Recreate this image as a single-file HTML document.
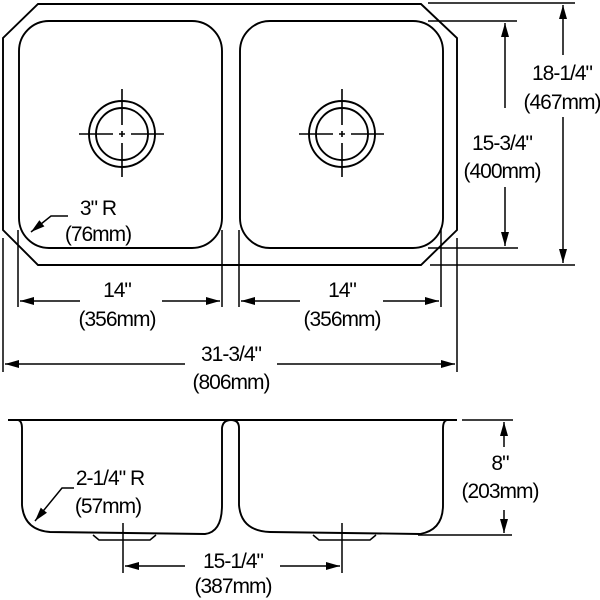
<!DOCTYPE html>
<html><head><meta charset="utf-8"><style>
html,body{margin:0;padding:0;background:#fff;}
svg{display:block;}
text{font-family:"Liberation Sans",Arial,sans-serif;font-size:21px;letter-spacing:-1px;fill:#000;text-anchor:middle;}
</style></head><body>
<svg width="600" height="600" viewBox="0 0 600 600" xmlns="http://www.w3.org/2000/svg">
<defs>
<marker id="a" markerWidth="14" markerHeight="8" refX="14" refY="4" orient="auto" markerUnits="userSpaceOnUse">
<path d="M0,0 L14,4 L0,8 Z" fill="#000"/></marker>
</defs>
<g fill="none" stroke="#000" stroke-width="1.9">
<path d="M38,4 L421,4 L457,38 L457,230 L421,265 L38,265 L3,230 L3,38 Z"/>
<rect x="19" y="21" width="203" height="227" rx="30"/>
<rect x="240" y="21" width="203" height="227" rx="30"/>
<circle cx="122" cy="134" r="33"/><circle cx="122" cy="134" r="26"/>
<circle cx="342" cy="134" r="33"/><circle cx="342" cy="134" r="26"/>
</g>
<g stroke="#000" stroke-width="1.6">
<path d="M79,134 H113 M119,134 H125 M131,134 H164 M122,89 V125 M122,131 V137 M122,143 V177"/>
<path d="M299,134 H333 M339,134 H345 M351,134 H384 M342,89 V125 M342,131 V137 M342,143 V177"/>
</g>
<g fill="none" stroke="#000" stroke-width="1.5">
<path d="M3,238 V372 M18,230 V307 M222,230 V307 M239,230 V307 M441,228 V307 M457,238 V372"/>
<path d="M428,21 H517 M428,248 H518 M428,3 H575 M430,265 H575"/>
<path d="M80,301 H20" marker-end="url(#a)"/><path d="M162,301 H220" marker-end="url(#a)"/>
<path d="M300,301 H241" marker-end="url(#a)"/><path d="M383,301 H439" marker-end="url(#a)"/>
<path d="M185,364 H5" marker-end="url(#a)"/><path d="M277,364 H455" marker-end="url(#a)"/>
<path d="M505,108 V23" marker-end="url(#a)"/><path d="M505,187 V246" marker-end="url(#a)"/>
<path d="M563,55 V5" marker-end="url(#a)"/><path d="M563,117 V263" marker-end="url(#a)"/>
<path d="M68,216 H51 L31,232" marker-end="url(#a)"/>
<path d="M8,420 H457" stroke-width="1.9"/>
<path d="M18,420 Q22,421 22,428 V505 Q24,530 50,532 L205,534 Q222,532 222,505 V428 Q223,420 231,420 Q239,420 239,428 V505 Q241,531 270,532 L420,534 Q443,530 443,505 V428 Q443,421 447,420" stroke-width="1.9"/>
<path d="M93,535 L99,540 H150 L156,535" />
<path d="M313,535 L319,540 H370 L376,535" />
<path d="M123,523 V573 M342,523 V573"/>
<path d="M185,566 H125" marker-end="url(#a)"/><path d="M280,566 H340" marker-end="url(#a)"/>
<path d="M462,420 H513 M418,535 H512"/>
<path d="M504,447 V422" marker-end="url(#a)"/><path d="M504,510 V533" marker-end="url(#a)"/>
<path d="M74,488 H62 L35,521" marker-end="url(#a)"/>
</g>
<text x="98" y="215">3" R</text>
<text x="98" y="241">(76mm)</text>
<text x="117" y="297">14"</text>
<text x="117" y="326">(356mm)</text>
<text x="342" y="297">14"</text>
<text x="342" y="326">(356mm)</text>
<text x="231" y="361">31-3/4"</text>
<text x="231" y="389">(806mm)</text>
<text x="502" y="150">15-3/4"</text>
<text x="502" y="178">(400mm)</text>
<text x="562" y="80">18-1/4"</text>
<text x="562" y="109">(467mm)</text>
<text x="110" y="485">2-1/4" R</text>
<text x="108" y="513">(57mm)</text>
<text x="500" y="470">8"</text>
<text x="500" y="498">(203mm)</text>
<text x="233" y="568">15-1/4"</text>
<text x="233" y="593">(387mm)</text>
</svg>
</body></html>
